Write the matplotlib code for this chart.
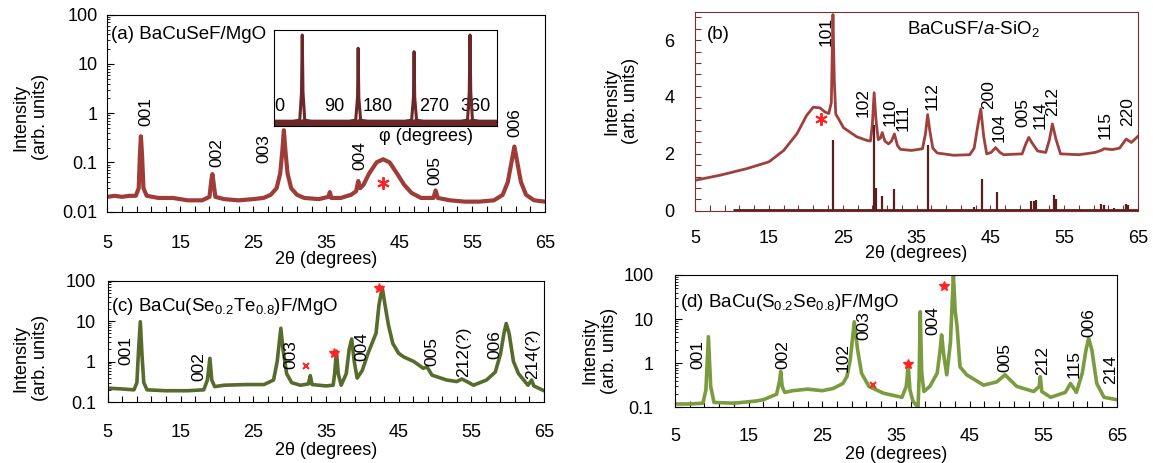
import numpy as np
import matplotlib
matplotlib.use("Agg")
import matplotlib.pyplot as plt
from matplotlib.ticker import FixedLocator, LogLocator, NullFormatter

plt.rcParams["font.family"] = ["Liberation Sans", "DejaVu Sans"]
plt.rcParams["mathtext.fontset"] = "custom"
plt.rcParams["mathtext.rm"] = "Liberation Sans"
plt.rcParams["mathtext.it"] = "Liberation Sans:italic"

# ---------------- data ----------------
XTICKS = [5, 15, 25, 35, 45, 55, 65]

# (a) BaCuSeF/MgO, log intensity
TTH_A = [5.0, 6.0, 7.0, 8.0, 8.9, 9.3, 9.47, 9.6, 9.75, 9.95, 10.4, 12.0, 14.0, 16.0, 18.0,
         19.0, 19.27, 19.4, 19.55, 19.8, 21.0, 23.0, 25.0, 26.4, 27.4, 28.2, 28.7, 29.0, 29.2,
         29.4, 29.7, 30.2, 31.0, 32.0, 34.0, 35.3, 35.5, 35.7, 37.0, 38.4, 39.1, 39.4, 39.65,
         40.1, 40.9, 41.9, 42.8, 43.7, 44.7, 45.7, 46.7, 48.0, 49.7, 50.0, 50.3, 52.0, 54.0,
         56.0, 58.0, 59.2, 59.9, 60.4, 60.8, 61.2, 61.7, 62.4, 63.5, 65.0]
INT_A = [0.020, 0.021, 0.020, 0.021, 0.021, 0.03, 0.15, 0.34, 0.15, 0.03, 0.021, 0.019, 0.019,
         0.017, 0.017, 0.02, 0.045, 0.058, 0.04, 0.02, 0.018, 0.017, 0.018, 0.019, 0.022, 0.03,
         0.06, 0.18, 0.45, 0.18, 0.06, 0.03, 0.022, 0.019, 0.018, 0.02, 0.025, 0.019, 0.019,
         0.022, 0.026, 0.042, 0.03, 0.035, 0.06, 0.1, 0.116, 0.1, 0.06, 0.035, 0.024, 0.019,
         0.019, 0.027, 0.019, 0.017, 0.016, 0.016, 0.017, 0.022, 0.04, 0.1, 0.21, 0.1, 0.04,
         0.022, 0.017, 0.016]
HKL_A = ["001", "002", "003", "004", "005", "006"]
HKL_A_X = [10.35, 19.95, 26.5, 39.6, 49.95, 60.9]
HKL_A_Y = [1.06, 0.155, 0.187, 0.135, 0.067, 0.66]
STAR_A_X = [42.8]
STAR_A_Y = [0.038]

# (a) inset: phi scan
PHI = [0, 30, 41, 43.8, 45, 46.2, 49, 60, 90, 120, 131, 134, 135, 136, 139, 150, 180, 210,
       221, 224, 225, 226, 229, 240, 270, 300, 311, 313.8, 315, 316.2, 319, 330, 358]
PHI_I = [0.05, 0.05, 0.06, 0.35, 0.948, 0.35, 0.06, 0.05, 0.05, 0.05, 0.06, 0.3, 0.81, 0.3,
         0.06, 0.05, 0.05, 0.05, 0.06, 0.3, 0.774, 0.3, 0.06, 0.05, 0.05, 0.05, 0.06, 0.35,
         0.948, 0.35, 0.06, 0.05, 0.05]
PHI_TICK_POS = [8, 97, 166, 257, 324]
PHI_TICK_LAB = ["0", "90", "180", "270", "360"]

# (b) BaCuSF/a-SiO2, linear intensity
TTH_B = [5.0, 8.4, 12.0, 15.0, 17.0, 18.8, 20.1, 21.0, 21.9, 22.6, 23.1, 23.45, 23.67, 23.85,
         24.05, 24.5, 25.1, 26.9, 28.3, 28.75, 29.0, 29.25, 29.5, 29.8, 30.1, 30.35, 30.7, 31.2,
         31.6, 32.0, 32.4, 32.8, 34.3, 35.8, 36.2, 36.5, 36.8, 37.2, 37.8, 40.0, 42.2, 42.8,
         43.3, 43.7, 44.1, 44.5, 45.1, 45.7, 46.3, 46.8, 49.3, 49.8, 50.2, 50.6, 51.4, 52.5,
         53.0, 53.4, 53.9, 54.5, 57.0, 59.2, 60.0, 60.4, 61.5, 62.5, 63.4, 64.1, 65.0]
INT_B = [1.07, 1.25, 1.48, 1.72, 2.12, 2.71, 3.35, 3.64, 3.62, 3.47, 3.42, 3.8, 6.9, 4.6,
         3.4, 3.2, 2.92, 2.6, 2.47, 2.45, 3.0, 4.15, 3.2, 2.5, 2.55, 2.75, 2.45, 2.35, 2.45,
         2.7, 2.3, 2.16, 2.12, 2.18, 2.7, 3.38, 2.8, 2.2, 2.03, 1.95, 1.97, 2.2, 3.0, 3.58,
         2.6, 2.0, 2.05, 2.22, 2.05, 1.97, 2.0, 2.35, 2.58, 2.4, 2.1, 2.05, 2.5, 3.05, 2.5,
         2.0, 1.97, 2.05, 2.12, 2.18, 2.15, 2.2, 2.52, 2.4, 2.62]
STICK_X = [23.67, 29.25, 29.5, 30.35, 32.0, 36.6, 42.8, 43.85, 45.85, 50.5, 50.9, 51.2,
           53.6, 53.85, 60.0, 60.4, 61.8, 63.4, 63.7]
STICK_Y = [2.5, 3.0, 0.8, 0.5, 0.78, 2.3, 0.12, 1.12, 0.67, 0.35, 0.35, 0.38, 0.55, 0.4,
           0.25, 0.2, 0.1, 0.25, 0.2]
STICK_START = 10.1
HKL_B = ["101", "102", "110", "111", "112", "200", "104", "005", "114", "212", "115", "220"]
HKL_B_X = [22.7, 27.8, 31.4, 33.2, 37.1, 44.7, 46.2, 49.4, 51.7, 53.4, 60.6, 63.6]
HKL_B_Y = [6.3, 3.81, 3.47, 3.27, 4.05, 4.08, 2.92, 3.47, 3.35, 3.85, 3.03, 3.5]
STAR_B_X = [22.1]
STAR_B_Y = [3.23]

# (c) BaCu(Se0.2Te0.8)F/MgO, log intensity
TTH_C = [5.0, 7.0, 8.6, 9.0, 9.2, 9.47, 9.7, 9.95, 10.4, 13.0, 16.0, 18.2, 18.7, 19.04, 19.3,
         19.7, 21.0, 24.0, 26.5, 27.8, 28.3, 28.8, 29.1, 29.6, 30.3, 31.5, 32.6, 32.85, 33.1,
         35.0, 36.0, 36.2, 36.45, 36.7, 37.1, 37.8, 38.2, 38.55, 38.9, 39.3, 40.0, 40.8, 41.4,
         41.9, 42.3, 42.75, 43.1, 43.6, 44.2, 45.0, 45.7, 47.1, 48.4, 48.9, 49.6, 51.6, 53.0,
         53.7, 54.4, 55.3, 57.1, 58.3, 59.0, 59.5, 59.8, 60.2, 60.8, 61.5, 62.8, 63.3, 63.6,
         65.0]
INT_C = [0.22, 0.21, 0.2, 0.3, 1.5, 9.6, 1.5, 0.3, 0.2, 0.19, 0.19, 0.2, 0.35, 1.2, 0.35,
         0.24, 0.26, 0.27, 0.27, 0.35, 1.0, 6.6, 2.0, 0.5, 0.3, 0.26, 0.28, 0.45, 0.27, 0.25,
         0.26, 0.5, 1.8, 0.5, 0.26, 0.5, 2.0, 3.6, 1.0, 0.39, 0.6, 1.6, 3.0, 5.0, 25.0, 68.0,
         27.0, 8.0, 2.8, 1.6, 1.3, 1.0, 0.68, 0.74, 0.46, 0.35, 0.32, 0.37, 0.32, 0.26, 0.35,
         0.55, 1.5, 5.0, 8.7, 5.0, 1.0, 0.5, 0.26, 0.35, 0.25, 0.19]
HKL_C = ["001", "002", "003", "004", "005", "212(?)", "006", "214(?)"]
HKL_C_X = [7.5, 17.5, 30.2, 39.95, 49.6, 54.0, 58.2, 63.4]
HKL_C_Y = [1.9, 0.74, 1.5, 2.35, 1.75, 1.7, 2.6, 1.53]
STAR_C_X = [36.1, 42.3]
STAR_C_Y = [1.67, 65.0]
CROSS_C_X = [32.2]
CROSS_C_Y = [0.77]

# (d) BaCu(S0.2Se0.8)F/MgO, log intensity
TTH_D = [5.0, 7.0, 8.8, 9.2, 9.54, 9.85, 10.3, 13.0, 16.0, 17.0, 18.8, 19.2, 19.36, 19.55,
         19.9, 21.0, 23.0, 25.0, 26.5, 27.8, 28.34, 28.8, 29.34, 29.8, 30.34, 31.33, 33.33,
         35.82, 36.4, 36.67, 36.9, 37.3, 38.0, 38.15, 38.3, 38.5, 38.8, 39.6, 40.6, 41.0, 41.2,
         41.5, 41.9, 42.4, 42.8, 43.05, 43.3, 43.7, 44.6, 46.9, 48.7, 49.8, 51.4, 53.7, 54.45,
         54.6, 54.8, 56.0, 58.0, 58.7, 59.5, 60.3, 60.8, 61.16, 61.6, 62.26, 63.25, 65.0]
INT_D = [0.12, 0.12, 0.125, 0.25, 4.0, 0.3, 0.13, 0.125, 0.14, 0.15, 0.2, 0.4, 0.65, 0.3,
         0.22, 0.24, 0.26, 0.24, 0.27, 0.35, 0.5, 1.2, 8.7, 2.0, 0.59, 0.3, 0.21, 0.17, 0.3,
         0.91, 0.25, 0.14, 0.1, 0.5, 14.7, 0.6, 0.23, 0.3, 0.6, 2.0, 4.4, 1.5, 0.55, 3.0,
         100.0, 15.0, 6.8, 0.83, 0.55, 0.32, 0.38, 0.55, 0.3, 0.23, 0.3, 0.5, 0.23, 0.17,
         0.22, 0.35, 0.22, 0.6, 2.0, 3.7, 2.0, 0.35, 0.17, 0.15]
HKL_D = ["001", "002", "102", "003", "004", "005", "212", "115", "006", "214"]
HKL_D_X = [8.15, 19.6, 27.85, 30.6, 40.05, 49.8, 54.9, 59.25, 61.25, 64.1]
HKL_D_Y = [1.55, 1.55, 1.37, 7.1, 9.2, 1.37, 1.15, 0.96, 8.5, 0.74]
STAR_D_X = [36.7, 41.5]
STAR_D_Y = [0.96, 55.0]
CROSS_D_X = [31.85]
CROSS_D_Y = [0.32]

# ---------------- style ----------------
RED = "#FF2424"
COL_A = "#A03C38"
COL_INSET = "#6A2828"
COL_B = "#A0403C"
COL_STICK = "#5A1E1E"
COL_B_AX = "#7B3030"
COL_C = "#566B2C"
COL_D = "#7B9B3F"
FS = 13
FS_HKL = 12.5


def style_x(ax, pad):
    ax.set_xlim(5, 65)
    ax.set_xticks(XTICKS)
    ax.set_xticklabels([str(t) for t in XTICKS])
    ax.xaxis.set_minor_locator(FixedLocator(np.arange(5, 66, 2)))
    ax.tick_params(axis="x", which="both", direction="in", length=4, width=0.8,
                   pad=pad, labelsize=FS, top=False)


def style_log_y(ax, lo, pad):
    ax.set_yscale("log")
    ax.set_ylim(lo, 100)
    ticks = [t for t in [0.01, 0.1, 1, 10, 100] if t >= lo]
    ax.set_yticks(ticks)
    ax.set_yticklabels([f"{t:g}" for t in ticks])
    ax.yaxis.set_minor_locator(LogLocator(base=10, subs=np.arange(2, 10)))
    ax.yaxis.set_minor_formatter(NullFormatter())
    ax.tick_params(axis="y", which="major", direction="in", length=5, width=0.8,
                   pad=pad, labelsize=FS, right=False)
    ax.tick_params(axis="y", which="minor", direction="in", length=2.5, width=0.6,
                   right=False)


def labels(ax, names, xs, ys, xlab_y, ylab_x, ylab_y):
    for s, x, y in zip(names, xs, ys):
        ax.text(x, y, s, rotation=90, ha="center", va="center", fontsize=FS_HKL)
    ax.set_xlabel("2θ (degrees)", fontsize=FS, va="center")
    ax.xaxis.set_label_coords(0.5, xlab_y)
    ax.set_ylabel("Intensity\n(arb. units)", fontsize=FS, va="center", linespacing=1.15)
    ax.yaxis.set_label_coords(ylab_x, ylab_y)


fig = plt.figure(figsize=(11.53, 4.63), dpi=100)

# ---- (a)
ax = fig.add_axes([0.0931, 0.5428, 0.3796, 0.4255])
ax.plot(TTH_A, INT_A, color=COL_A, lw=3.0, solid_joinstyle="round")
ax.plot(STAR_A_X, STAR_A_Y, ls="none", marker=(6, 2, 0), ms=9, mew=1.4, color=RED)
style_x(ax, 17)
style_log_y(ax, 0.01, 7)
labels(ax, HKL_A, HKL_A_X, HKL_A_Y, -0.245, -0.175, 0.48)
ax.text(0.009, 0.897, "(a) BaCuSeF/MgO", transform=ax.transAxes, ha="left", va="center",
        fontsize=13.5)

axi = fig.add_axes([0.2379, 0.7279, 0.1929, 0.2073])
axi.fill_between(PHI, 0, np.minimum(PHI_I, 0.075), color=COL_INSET, lw=0)
axi.plot(PHI, PHI_I, color=COL_INSET, lw=2.2)
axi.set_xlim(0, 358)
axi.set_ylim(0, 1)
axi.set_yticks([])
axi.set_xticks(PHI_TICK_POS)
axi.set_xticklabels(PHI_TICK_LAB)
axi.tick_params(axis="x", length=0, pad=-20, labelsize=FS)
axi.set_xlabel("φ (degrees)", fontsize=FS, va="center")
axi.xaxis.set_label_coords(0.68, -0.105)

# ---- (b)
ax = fig.add_axes([0.6029, 0.5449, 0.3841, 0.4298])
ax.plot(TTH_B, INT_B, color=COL_B, lw=2.0, solid_joinstyle="round")
ax.vlines(STICK_X, 0, STICK_Y, color=COL_STICK, lw=1.6)
ax.hlines(0.03, STICK_START, 65, color=COL_STICK, lw=2.0)
ax.plot(STAR_B_X, STAR_B_Y, ls="none", marker=(6, 2, 0), ms=9, mew=1.4, color=RED)
style_x(ax, 14)
ax.set_ylim(0, 7)
ax.set_yticks([0, 2, 4, 6])
ax.yaxis.set_minor_locator(FixedLocator(np.arange(0, 7, 0.4)))
ax.tick_params(axis="y", which="both", direction="in", length=4, width=0.8, pad=15,
               labelsize=FS, right=False)
ax.tick_params(which="both", color=COL_B_AX)
for sp in ax.spines.values():
    sp.set_color(COL_B_AX)
labels(ax, HKL_B, HKL_B_X, HKL_B_Y, -0.215, -0.167, 0.55)
ax.text(6.6, 6.2, "(b)", ha="left", va="center", fontsize=13.5)
ax.text(33.75, 6.38, r"BaCuSF/$\mathit{a}$-SiO$_{\mathrm{2}}$", ha="left", va="center",
        fontsize=13.5)

# ---- (c)
ax = fig.add_axes([0.0935, 0.1317, 0.3783, 0.2624])
ax.plot(TTH_C, INT_C, color=COL_C, lw=2.6, solid_joinstyle="round")
ax.plot(STAR_C_X, STAR_C_Y, ls="none", marker="*", ms=7.5, color=RED)
ax.plot(CROSS_C_X, CROSS_C_Y, ls="none", marker="x", ms=4, mew=1.5, color=RED)
style_x(ax, 16)
style_log_y(ax, 0.1, 8.5)
labels(ax, HKL_C, HKL_C_X, HKL_C_Y, -0.4, -0.177, 0.36)
ax.text(0.008, 0.784, r"(c) BaCu(Se$_{\mathrm{0.2}}$Te$_{\mathrm{0.8}}$)F/MgO",
        transform=ax.transAxes, ha="left", va="center", fontsize=13.5)

# ---- (d)
ax = fig.add_axes([0.5854, 0.1199, 0.3833, 0.2862])
ax.plot(TTH_D, INT_D, color=COL_D, lw=2.6, solid_joinstyle="round")
ax.plot(STAR_D_X, STAR_D_Y, ls="none", marker="*", ms=7.5, color=RED)
ax.plot(CROSS_D_X, CROSS_D_Y, ls="none", marker="x", ms=4, mew=1.5, color=RED)
style_x(ax, 14.5)
style_log_y(ax, 0.1, 15.5)
labels(ax, HKL_D, HKL_D_X, HKL_D_Y, -0.355, -0.17, 0.43)
ax.text(0.011, 0.79, r"(d) BaCu(S$_{\mathrm{0.2}}$Se$_{\mathrm{0.8}}$)F/MgO",
        transform=ax.transAxes, ha="left", va="center", fontsize=13.5)

fig.savefig("out.png", dpi=100)
